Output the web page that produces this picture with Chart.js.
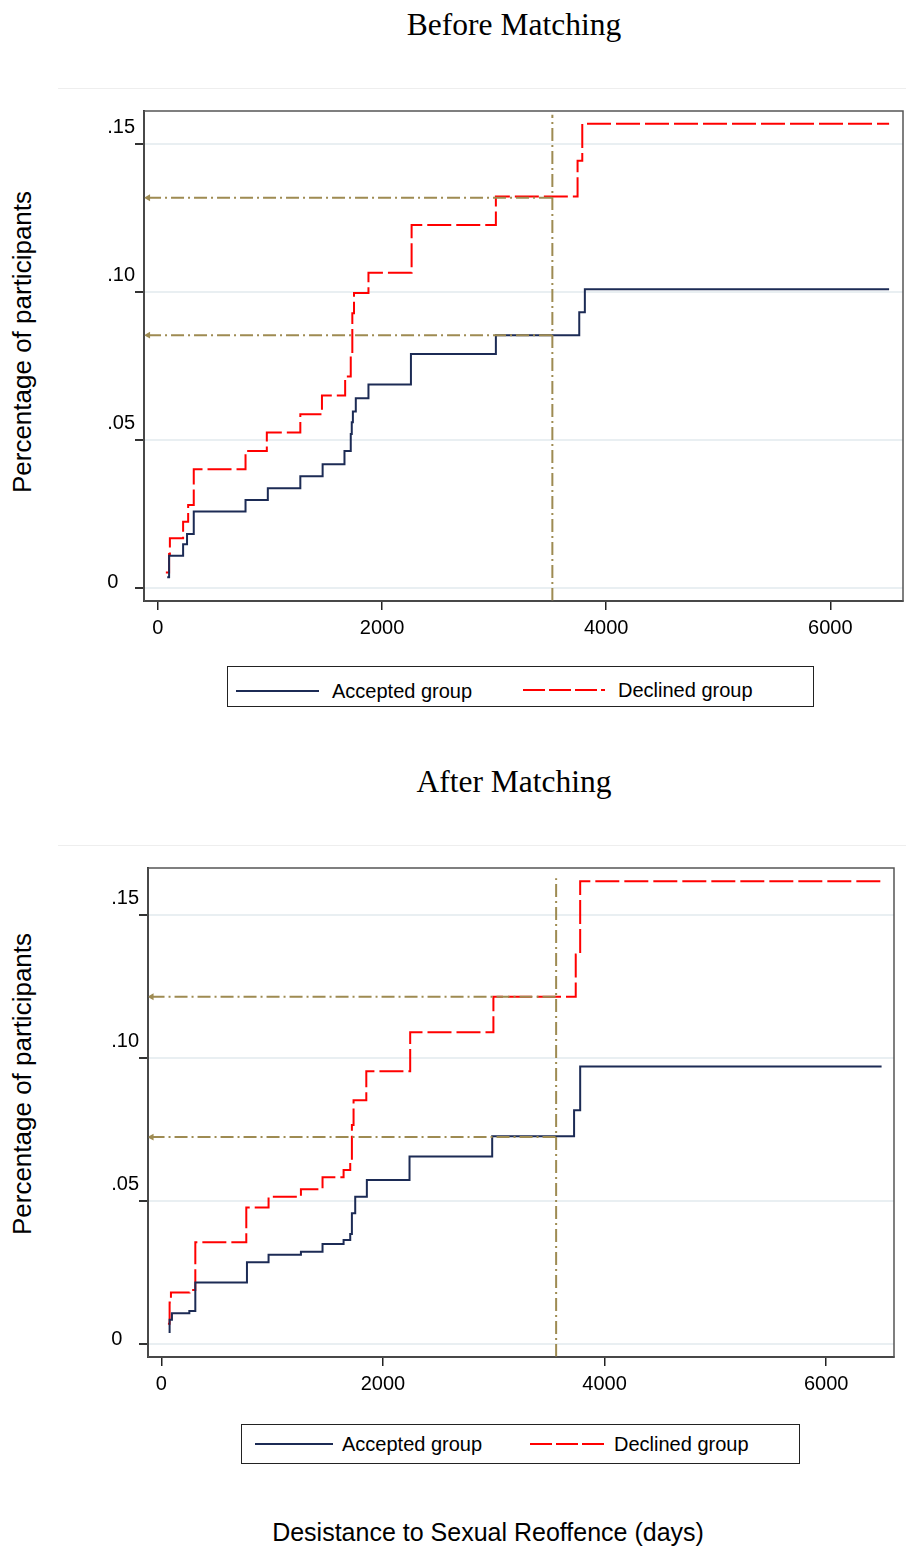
<!DOCTYPE html>
<html>
<head>
<meta charset="utf-8">
<script src="https://cdn.jsdelivr.net/npm/chart.js@4.4.1/dist/chart.umd.min.js"></script>
<style>
  body { margin: 0; background: #fff; font-family: "Liberation Sans", Arial, sans-serif; color: #000; }
  #page { position: relative; width: 907px; height: 1548px; overflow: hidden; }
  .title { position: absolute; left: 214px; width: 600px; text-align: center; font-family: "Liberation Serif", "Times New Roman", serif; font-size: 31.5px; line-height: 36px; }
  .ytitle { position: absolute; width: 400px; height: 30px; line-height: 30px; text-align: center; font-size: 26px; transform: rotate(-90deg); }
  .xtitle { position: absolute; left: 188px; top: 1517px; width: 600px; line-height: 30px; text-align: center; font-size: 25px; }
  .legend { position: absolute; box-sizing: border-box; border: 1px solid #222; background: #fff; }
  .legend svg { position: absolute; }
  .legend span { position: absolute; font-size: 20px; line-height: 24px; white-space: nowrap; }
  .faint { position: absolute; left: 58px; width: 848px; border-top: 1px solid #eeeeee; }
  canvas { position: absolute; left: 0; }
</style>
</head>
<body>
<div id="page">
  <div class="faint" style="top:88px"></div>
  <div class="faint" style="top:845px"></div>

  <div class="title" style="top:7px">Before Matching</div>
  <div class="title" style="top:764px">After Matching</div>

  <div class="ytitle" style="left:-178px; top:327px">Percentage of participants</div>
  <div class="ytitle" style="left:-178px; top:1069px">Percentage of participants</div>

  <canvas id="beforeChart" width="907" height="560" style="top:90px"></canvas>
  <canvas id="afterChart" width="907" height="560" style="top:850px"></canvas>

  <div class="legend" style="left:227px; top:666px; width:587px; height:41px">
    <svg style="left:8px; top:20px" width="84" height="8"><line x1="0" y1="4" x2="83" y2="4" stroke="#1c2b55" stroke-width="2"/></svg>
    <span style="left:104px; top:12px">Accepted group</span>
    <svg style="left:295px; top:19px" width="84" height="8"><line x1="0" y1="4" x2="82" y2="4" stroke="#ff0000" stroke-width="2" stroke-dasharray="22 4"/></svg>
    <span style="left:390px; top:11px">Declined group</span>
  </div>
  <div class="legend" style="left:241px; top:1424px; width:559px; height:40px">
    <svg style="left:13px; top:15px" width="80" height="8"><line x1="0" y1="4" x2="78" y2="4" stroke="#1c2b55" stroke-width="2"/></svg>
    <span style="left:100px; top:7px">Accepted group</span>
    <svg style="left:288px; top:15px" width="80" height="8"><line x1="0" y1="4" x2="77" y2="4" stroke="#ff0000" stroke-width="2" stroke-dasharray="22 4"/></svg>
    <span style="left:372px; top:7px">Declined group</span>
  </div>

  <div class="xtitle">Desistance to Sexual Reoffence (days)</div>
</div>

<script>
// ---- Before matching: cumulative reoffence curves (day of event, rate after event)
const beforeAcceptedDays = [83, 100, 225, 260, 320, 782, 981, 1271, 1470, 1665, 1721, 1730, 1740, 1766, 1879, 2258, 3016, 3760, 3810, 6525];
const beforeAcceptedRate = [0.0036, 0.0109, 0.0148, 0.0182, 0.0258, 0.0297, 0.0337, 0.0377, 0.0418, 0.0463, 0.0520, 0.0560, 0.0596, 0.0641, 0.0687, 0.0790, 0.0854, 0.0931, 0.1009, 0.1009];
const beforeDeclinedDays = [71, 100, 107, 225, 270, 320, 782, 972, 1271, 1464, 1671, 1721, 1735, 1750, 1879, 2264, 3016, 3745, 3787, 6525];
const beforeDeclinedRate = [0.0052, 0.0115, 0.0168, 0.0224, 0.0280, 0.0401, 0.0463, 0.0525, 0.0587, 0.0650, 0.0714, 0.0787, 0.0928, 0.0996, 0.1065, 0.1226, 0.1322, 0.1443, 0.1568, 0.1568];

// ---- After matching
const afterAcceptedDays = [66, 75, 96, 253, 307, 773, 968, 1260, 1455, 1645, 1705, 1720, 1750, 1855, 2240, 2986, 3725, 3780, 6500];
const afterAcceptedRate = [0.0042, 0.0085, 0.0108, 0.0116, 0.0215, 0.0286, 0.0312, 0.0323, 0.0350, 0.0364, 0.0385, 0.0457, 0.0515, 0.0573, 0.0655, 0.0726, 0.0817, 0.0970, 0.0970];
const afterDeclinedDays = [60, 75, 87, 255, 307, 767, 968, 1260, 1455, 1645, 1705, 1720, 1735, 1850, 2246, 2997, 3740, 3780, 6500];
const afterDeclinedRate = [0.0071, 0.0145, 0.0180, 0.0189, 0.0356, 0.0477, 0.0515, 0.0541, 0.0583, 0.0608, 0.0643, 0.0765, 0.0852, 0.0953, 0.1089, 0.1213, 0.1361, 0.1617, 0.1617];

// ---- dash-dot reference lines: cut-off day and the level of each curve there
const beforeCutDay = 3520;
const beforeCutTop = 0.1598;
const beforeLevels = [0.1318, 0.0854];
const afterCutDay = 3563;
const afterCutTop = 0.1627;
const afterLevels = [0.1213, 0.0723];
const refLineStart = -88;

// ---- axes
const xTickValues = [0, 2000, 4000, 6000];
const xTickLabels = ['0', '2000', '4000', '6000'];
const yTickValues = [0, 0.05, 0.10, 0.15];
const yTickLabels = ['0', '.05', '.10', '.15'];

const NAVY = '#1c2b55';
const RED = '#ff0000';
const OLIVE = '#9e8b52';

const toPoints = (days, rates) => days.map((d, i) => ({ x: d, y: rates[i] }));

const frame = {
    id: 'frame',
    afterDraw(chart) {
        const { ctx, chartArea: a } = chart;
        ctx.save();
        ctx.strokeStyle = '#555';
        ctx.lineWidth = 1.5;
        ctx.strokeRect(a.left, a.top, a.right - a.left, a.bottom - a.top);
        ctx.restore();
    }
};

function refSet(points, arrow) {
    return {
        data: points,
        borderColor: OLIVE,
        backgroundColor: OLIVE,
        borderWidth: 2,
        borderDash: [13, 4, 2, 4],
        pointStyle: 'triangle',
        pointRadius: ctx => (arrow && ctx.dataIndex === 0 ? 4 : 0),
        pointRotation: 270,
        pointBorderWidth: 0,
        fill: false
    };
}

function makeChart(id, s) {
    const datasets = [
        refSet([{ x: s.cut, y: s.yMin }, { x: s.cut, y: s.cutTop }], false),
        ...s.levels.map(l => refSet([{ x: refLineStart, y: l }, { x: s.cut, y: l }], true)),
        { data: toPoints(s.accDays, s.accRate), stepped: true, borderColor: NAVY, borderWidth: 2, pointRadius: 0, fill: false },
        { data: toPoints(s.decDays, s.decRate), stepped: true, borderColor: RED, borderWidth: 2, borderDash: [24, 5], pointRadius: 0, fill: false }
    ];
    return new Chart(document.getElementById(id), {
        type: 'line',
        data: { datasets },
        plugins: [frame],
        options: {
            responsive: false,
            animation: false,
            layout: { padding: { top: s.padTop, right: s.padRight, left: 0, bottom: 0 } },
            plugins: { legend: { display: false }, tooltip: { enabled: false } },
            scales: {
                x: {
                    type: 'linear', min: s.xMin, max: s.xMax,
                    afterBuildTicks: ax => { ax.ticks = xTickValues.map(v => ({ value: v })); },
                    afterFit: ax => { ax.height = s.xHeight; ax.paddingLeft = 0; ax.paddingRight = 0; },
                    ticks: {
                        autoSkip: false, maxRotation: 0, padding: 6, color: '#000',
                        font: { family: 'Liberation Sans', size: 20 },
                        callback: (v, i) => xTickLabels[i]
                    },
                    grid: { drawOnChartArea: false, tickLength: 9, tickColor: '#222', lineWidth: 1.5 },
                    border: { color: '#222', width: 2 }
                },
                y: {
                    type: 'linear', min: s.yMin, max: s.yMax,
                    afterBuildTicks: ax => { ax.ticks = yTickValues.map(v => ({ value: v })); },
                    afterFit: ax => { ax.width = s.yWidth; ax.paddingTop = 0; ax.paddingBottom = 0; },
                    ticks: {
                        autoSkip: false, padding: 0, labelOffset: -5, color: '#000',
                        font: { family: 'Liberation Sans', size: 20, lineHeight: '22px' },
                        callback: (v, i) => (i === 0 ? yTickLabels[i] + '   ' : [yTickLabels[i], ''])
                    },
                    grid: { color: '#e9eff2', lineWidth: 2, tickLength: 9, tickColor: '#333' },
                    border: { color: '#222', width: 2 }
                }
            }
        }
    });
}

makeChart('beforeChart', {
    accDays: beforeAcceptedDays, accRate: beforeAcceptedRate,
    decDays: beforeDeclinedDays, decRate: beforeDeclinedRate,
    cut: beforeCutDay, cutTop: beforeCutTop, levels: beforeLevels,
    xMin: -124, xMax: 6649, yMin: -0.0044, yMax: 0.1611,
    padTop: 21, padRight: 1, yWidth: 144, xHeight: 49
});

makeChart('afterChart', {
    accDays: afterAcceptedDays, accRate: afterAcceptedRate,
    decDays: afterDeclinedDays, decRate: afterDeclinedRate,
    cut: afterCutDay, cutTop: afterCutTop, levels: afterLevels,
    xMin: -120, xMax: 6612, yMin: -0.0045, yMax: 0.1663,
    padTop: 18, padRight: 13, yWidth: 148, xHeight: 53
});
</script>
</body>
</html>
